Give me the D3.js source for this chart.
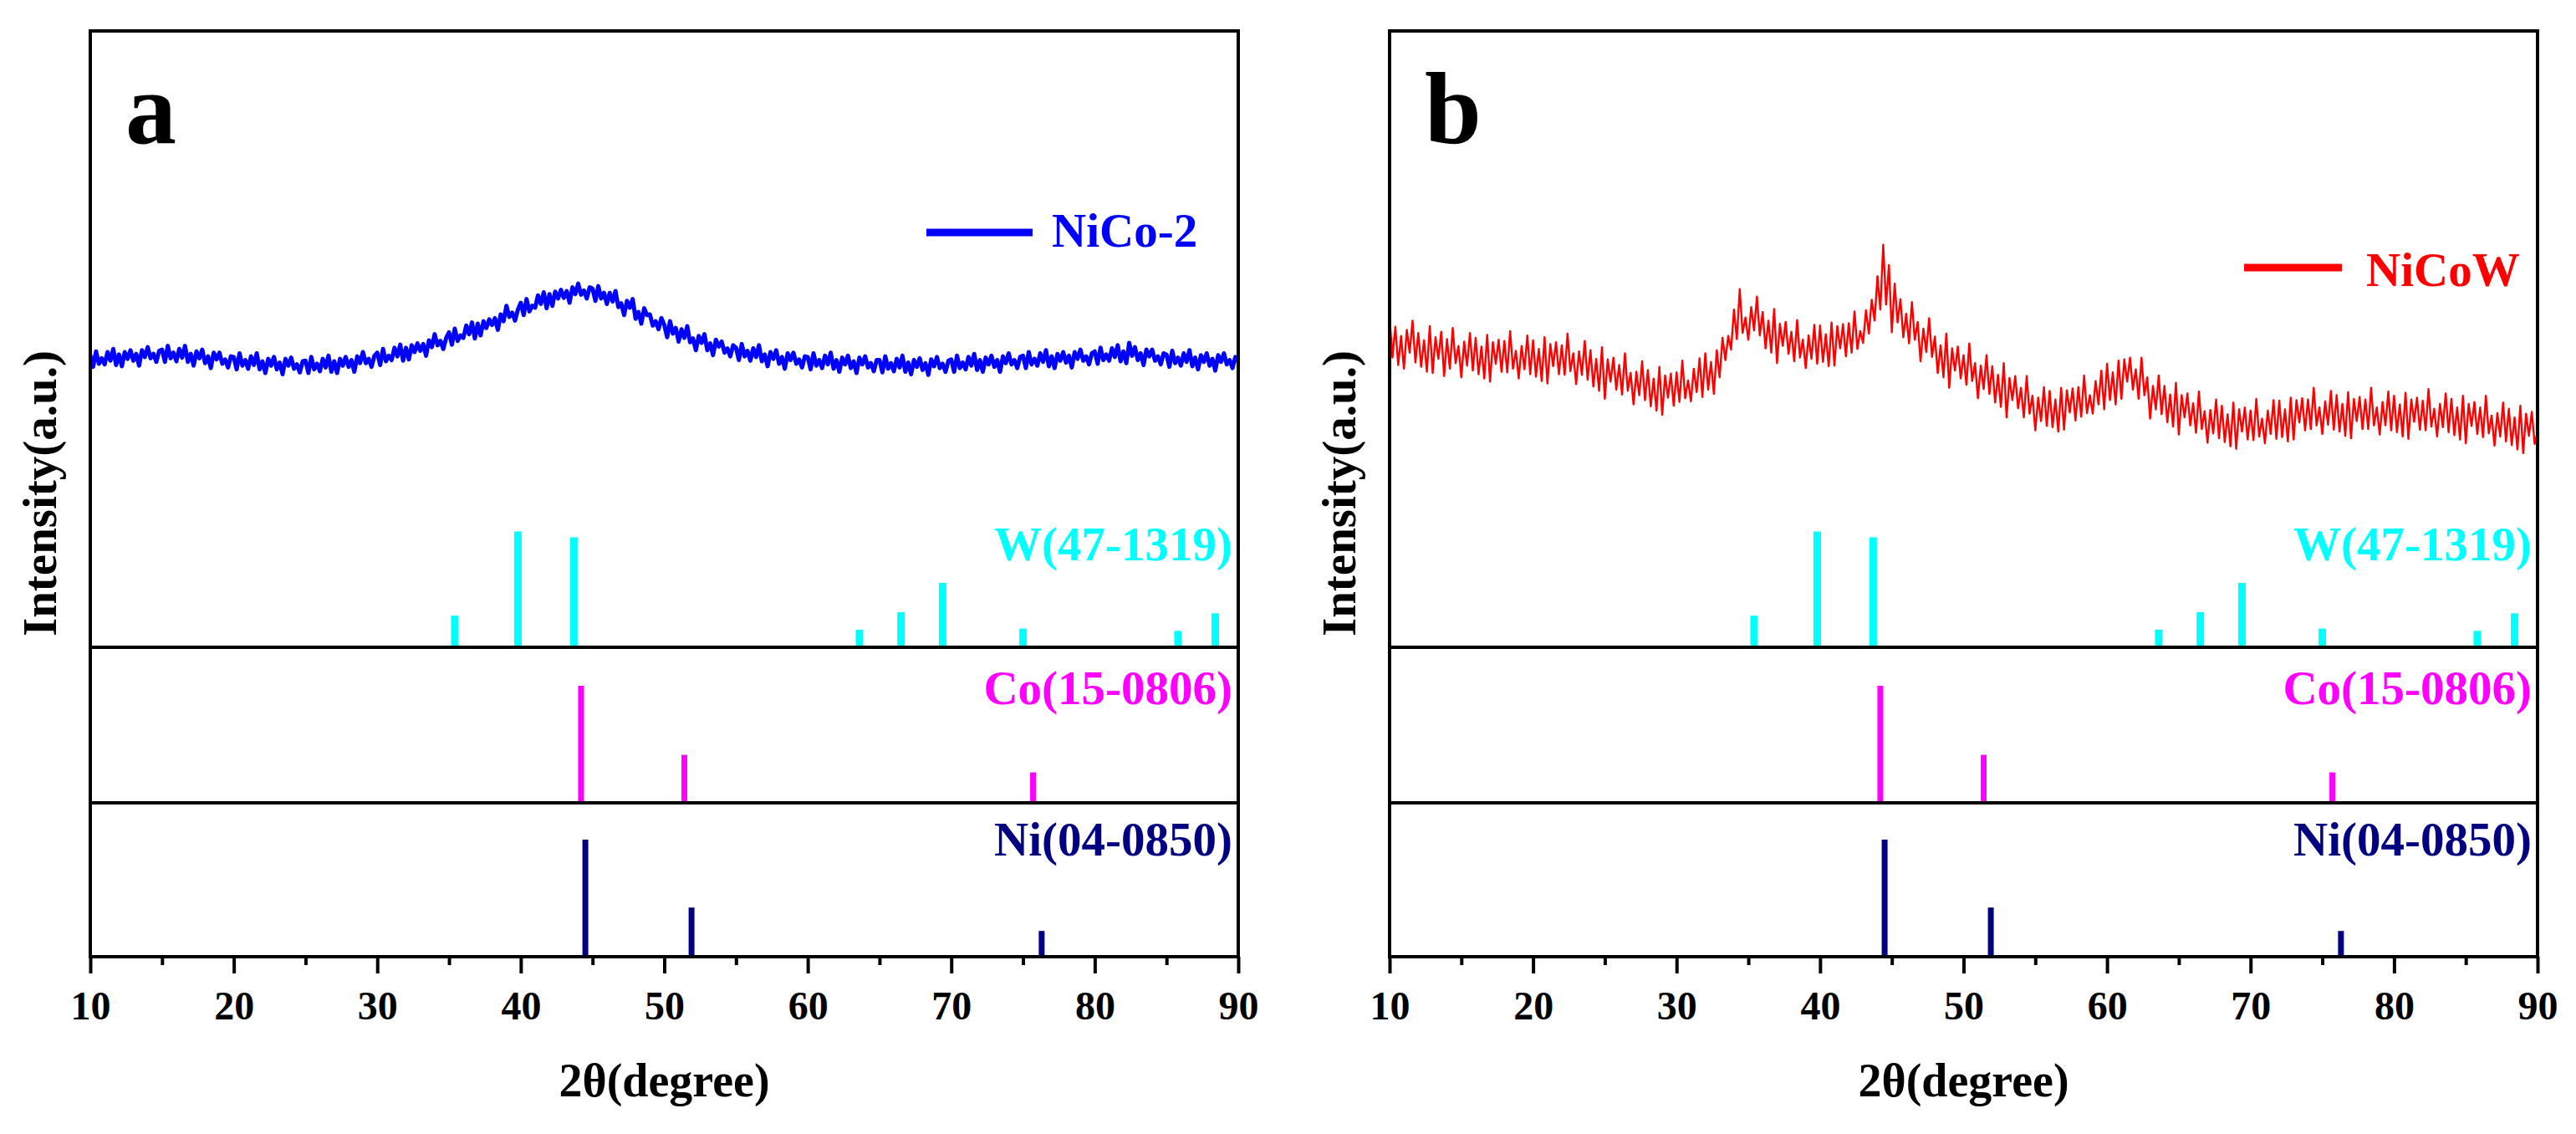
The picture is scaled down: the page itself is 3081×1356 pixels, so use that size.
<!DOCTYPE html>
<html>
<head>
<meta charset="utf-8">
<script src="https://d3js.org/d3.v7.min.js"></script>
<style>
body { margin: 0; background: #fff; }
text { font-family: "Liberation Serif", "Times New Roman", Times, "DejaVu Serif", serif; font-weight: bold; }
</style>
</head>
<body>
<div id="chart"></div>
<script>
// 2theta sampling of the measured patterns: starts at 10 deg, one value every 0.2 deg
const thetaStart = 10, thetaStep = 0.2;

// NiCo-2 pattern (arb. counts)
const nico2 = [
474,455,480,460,469, 459,479,465,484,458, 475,456,479,468,482, 465,476,457,482,471,
487,469,476,463,481, 483,463,489,469,478, 464,484,470,489,463, 476,457,480,469,483,
461,472,453,478,467, 478,460,467,454,472, 471,451,477,457,466, 452,472,458,477,451,
464,445,468,457,471, 451,462,443,468,457, 470,452,459,446,464, 465,445,471,451,460,
448,468,454,473,447, 464,445,468,457,471, 455,466,447,472,461, 479,461,468,455,473,
478,458,484,464,473, 466,486,472,491,465, 486,467,490,479,493, 481,492,473,498,487,
508,490,497,484,502, 511,491,517,497,506, 502,522,508,527,501, 525,506,529,518,532,
523,534,515,540,529, 554,536,543,530,548, 559,539,565,545,554, 551,571,557,576,550,
573,554,577,566,580, 567,578,559,584,573, 590,572,579,566,584, 582,562,586,566,575,
557,575,561,578,552, 558,539,562,551,565, 533,544,525,550,539, 540,522,529,516,534,
523,503,529,509,518, 496,516,502,521,495, 501,482,505,494,508, 482,493,474,499,488,
496,478,485,472,490, 486,466,492,472,481, 465,485,471,490,464, 475,456,479,468,482,
460,471,452,477,466, 478,460,467,454,472, 471,451,477,457,466, 453,473,459,478,452,
466,447,470,459,473, 453,464,445,470,459, 472,454,461,448,466, 466,446,472,452,461,
448,468,454,473,447, 462,443,466,455,469, 450,461,442,467,456, 471,453,460,447,465,
467,447,473,453,462, 451,471,457,476,450, 466,447,470,459,473, 455,466,447,472,461,
477,459,466,453,471, 473,453,479,459,468, 457,477,463,482,456, 472,453,476,465,479,
462,473,454,479,468, 483,465,472,459,477, 480,460,486,466,475, 465,485,471,490,464,
480,461,494,473,487, 466,477,458,483,472, 483,465,472,459,477, 475,455,481,461,470,
457,477,463,482,456, 470,451,474,463,477, 457,468,449,474,463, 477,459,466,453,471,
463
];

// NiCoW pattern (arb. counts)
const nicow = [
535,470,520,458,505, 452,515,478,530,462, 510,455,498,447,521, 445,503,468,512,440,
500,452,518,461,489, 438,496,457,510,449, 502,443,488,436,507, 431,495,460,499,447,
497,446,513,452,481, 436,489,451,506,443, 498,439,484,432,503, 428,492,456,495,443,
490,442,509,448,477, 427,480,442,497,434, 482,423,468,416,487, 403,467,431,470,418,
458,410,477,416,445, 394,447,409,464,401, 450,391,436,384,455, 377,441,405,444,392,
446,398,465,404,433, 399,452,414,469,406, 477,418,463,411,482, 438,502,466,505,483,
548,500,581,510,535, 499,552,514,569,506, 544,485,530,478,549, 461,525,489,528,476,
512,464,531,470,499, 453,506,468,523,460, 522,463,508,456,527, 457,521,485,524,472,
526,478,545,484,513, 494,547,509,564,530, 602,548,653,556,620, 511,590,527,565,503,
541,493,560,499,528, 464,517,479,534,471, 504,445,490,438,509, 421,485,449,488,436,
474,426,493,432,461, 404,457,419,474,411, 456,397,442,390,461, 373,437,401,440,388,
421,373,440,379,408, 352,405,367,422,359, 416,357,402,350,421, 353,417,381,420,368,
422,374,441,380,409, 379,432,394,449,386, 460,401,446,394,465, 403,467,431,470,418,
451,403,470,409,438, 371,424,386,441,378, 424,365,410,358,429, 345,409,373,412,360,
396,348,415,354,383, 332,385,347,402,339, 392,333,378,326,397, 322,386,350,389,337,
384,336,403,342,371, 331,384,346,401,338, 400,341,386,334,405, 337,401,365,404,352,
402,354,421,360,389, 346,399,361,416,353, 409,350,395,343,414, 339,403,367,406,354,
402,354,421,360,389, 345,398,360,415,352, 408,349,394,342,413, 338,402,366,405,353,
400,352,419,358,387, 342,395,357,412,349, 403,344,389,337,408, 331,395,359,398,346,
389,341,408,347,376, 327,380,342,397,334, 387,328,373,321,392, 315,379,343,382,330,
349
];

// reference cards: peak position (2theta) and relative intensity
const wPos  = [35.4, 39.8, 43.7, 63.6, 66.5, 69.4, 75.0, 85.8, 88.4];
const wInt  = [27, 99, 94, 15, 30, 55, 16, 14, 29];
const coPos = [44.2, 51.4, 75.7];
const coInt = [100, 41, 26];
const niPos = [44.5, 51.9, 76.3];
const niInt = [100, 42, 22];

const majorTicks = [10, 20, 30, 40, 50, 60, 70, 80, 90];
const minorTicks = [15, 25, 35, 45, 55, 65, 75, 85];

const panelLetters = ["a", "b"];
const sampleNames  = ["NiCo-2", "NiCoW"];
const sampleColors = ["#0000ff", "#ff0000"];
const refNames  = ["W(47-1319)", "Co(15-0806)", "Ni(04-0850)"];
const refColors = ["#00ffff", "#ff00ff", "#000080"];

// ---- layout ----
const W = 3081, H = 1356;
const panelX = [108, 1662];
const pw = 1373;
const yTop = 37, div1 = 774, div2 = 960, yBottom = 1144;
const baseY = [div1, div2, yBottom];
const refLabelY = [670, 842, 1023];
const stickW = [9, 7, 7];
const legendPos = [ {x1: 1000, x2: 1127, y: 278, tx: 1150, ty: 295},
                    {x1: 1022, x2: 1139, y: 320, tx: 1168, ty: 342} ];
const fontStack = '"Liberation Serif", "Times New Roman", Times, "DejaVu Serif", serif';

const svg = d3.select("#chart").append("svg")
  .attr("width", W).attr("height", H);

const x = d3.scaleLinear().domain([10, 90]).range([0, pw]);
const yCurve = d3.scaleLinear().domain([0, 1000]).range([div1, yTop]);
const yStick = d3.scaleLinear().domain([0, 100]).range([0, 140]);

const series = [nico2, nicow];
const refs = [[wPos, wInt], [coPos, coInt], [niPos, niInt]];

panelX.forEach(function(px, p) {
  const g = svg.append("g").attr("transform", "translate(" + px + ",0)");

  // measured pattern
  const pts = series[p].map((v, i) => [thetaStart + i * thetaStep, v]);
  const line = d3.line().x(d => x(d[0])).y(d => yCurve(d[1]));
  g.append("path")
    .datum(pts)
    .attr("d", line)
    .attr("fill", "none")
    .attr("stroke", sampleColors[p])
    .attr("stroke-width", p == 0 ? 5 : 2.4)
    .attr("stroke-linejoin", "round");

  // reference sticks
  refs.forEach(function(r, k) {
    const data = r[0].map((pos, i) => ({pos: pos, val: r[1][i]}));
    g.selectAll(".stick" + k)
      .data(data)
      .enter()
      .append("line")
      .attr("x1", d => x(d.pos))
      .attr("x2", d => x(d.pos))
      .attr("y1", baseY[k])
      .attr("y2", d => baseY[k] - yStick(d.val))
      .attr("stroke", refColors[k])
      .attr("stroke-width", stickW[k]);

    g.append("text")
      .attr("x", pw - 7)
      .attr("y", refLabelY[k])
      .attr("text-anchor", "end")
      .attr("font-size", 57)
      .attr("fill", refColors[k])
      .text(refNames[k]);
  });

  // legend
  const lp = legendPos[p];
  g.append("line")
    .attr("x1", lp.x1).attr("x2", lp.x2)
    .attr("y1", lp.y).attr("y2", lp.y)
    .attr("stroke", sampleColors[p])
    .attr("stroke-width", 9);
  g.append("text")
    .attr("x", lp.tx).attr("y", lp.ty)
    .attr("font-size", 57)
    .attr("fill", sampleColors[p])
    .text(sampleNames[p]);

  // panel letter
  g.append("text")
    .attr("x", 42).attr("y", 171)
    .attr("font-size", 122)
    .text(panelLetters[p]);

  // dividers and frame
  [div1, div2].forEach(function(yy) {
    g.append("line")
      .attr("x1", 0).attr("x2", pw)
      .attr("y1", yy).attr("y2", yy)
      .attr("stroke", "#000").attr("stroke-width", 4);
  });
  g.append("rect")
    .attr("x", 0).attr("y", yTop)
    .attr("width", pw).attr("height", yBottom - yTop)
    .attr("fill", "none")
    .attr("stroke", "#000")
    .attr("stroke-width", 4);

  // x axis
  const ax = g.append("g").attr("transform", "translate(0," + yBottom + ")")
    .call(d3.axisBottom(x).tickValues(majorTicks).tickSize(20).tickPadding(21).tickFormat(d3.format("d")));
  ax.select(".domain").remove();
  ax.selectAll("line").attr("stroke", "#000").attr("stroke-width", 4);
  ax.selectAll("text")
    .attr("font-size", 48)
    .attr("fill", "#000")
    .style("font-family", fontStack)
    .style("font-weight", "bold");

  const mx = g.append("g").attr("transform", "translate(0," + yBottom + ")")
    .call(d3.axisBottom(x).tickValues(minorTicks).tickSize(10).tickFormat(""));
  mx.select(".domain").remove();
  mx.selectAll("line").attr("stroke", "#000").attr("stroke-width", 4);

  // axis titles
  g.append("text")
    .attr("x", pw / 2).attr("y", 1311)
    .attr("text-anchor", "middle")
    .attr("font-size", 56)
    .text("2θ(degree)");

  g.append("text")
    .attr("transform", "translate(-41,590) rotate(-90)")
    .attr("text-anchor", "middle")
    .attr("font-size", 57)
    .text("Intensity(a.u.)");
});
</script>
</body>
</html>
